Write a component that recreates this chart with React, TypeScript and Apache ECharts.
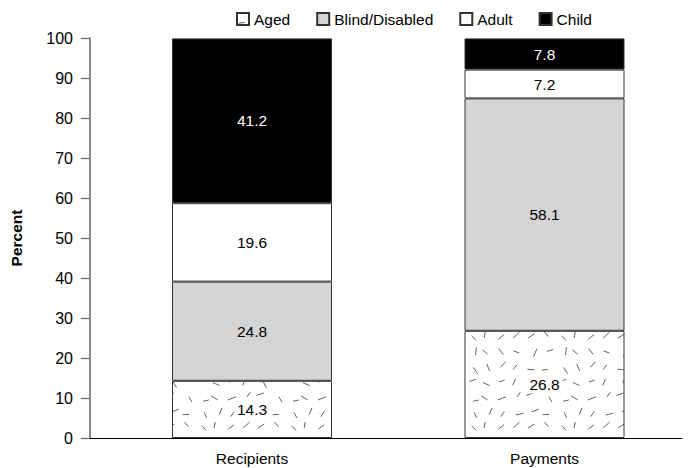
import React, { useEffect, useRef } from "react";
import * as echarts from "echarts";

const categories = ["Recipients", "Payments"];
const seriesNames = ["Aged", "Blind/Disabled", "Adult", "Child"];
const aged = [14.3, 26.8];
const blind = [24.8, 58.1];
const adult = [19.6, 7.2];
const child = [41.2, 7.8];
const yTicks = [0, 10, 20, 30, 40, 50, 60, 70, 80, 90, 100];

const FONT = "'Liberation Sans', Arial, Helvetica, sans-serif";

function makePattern(): HTMLCanvasElement {
  const size = 90;
  const c = document.createElement("canvas");
  c.width = size;
  c.height = size;
  const ctx = c.getContext("2d")!;
  ctx.fillStyle = "#ffffff";
  ctx.fillRect(0, 0, size, size);
  ctx.strokeStyle = "#3a3a3a";
  ctx.lineWidth = 0.8;
  ctx.lineCap = "round";
  let s = 12345;
  const rnd = () => {
    s = (s * 16807) % 2147483647;
    return s / 2147483647;
  };
  const cells = 6;
  const step = size / cells;
  for (let gx = 0; gx < cells; gx++) {
    for (let gy = 0; gy < cells; gy++) {
      const x = gx * step + 4 + rnd() * (step - 8);
      const y = gy * step + 4 + rnd() * (step - 8);
      const a = rnd() * Math.PI;
      const L = 5 + rnd() * 3;
      const dx = (Math.cos(a) * L) / 2;
      const dy = (Math.sin(a) * L) / 2;
      ctx.beginPath();
      ctx.moveTo(x - dx, y - dy);
      ctx.lineTo(x + dx, y + dy);
      ctx.stroke();
    }
  }
  return c;
}

export default function App() {
  const ref = useRef<HTMLDivElement>(null);
  useEffect(() => {
    if (!ref.current) return;
    const chart = echarts.init(ref.current, undefined, { renderer: "svg" });
    const pattern = makePattern();
    const fills: any[] = [
      { image: pattern, repeat: "repeat" },
      "#d4d4d4",
      "#ffffff",
      "#000000",
    ];
    const values = [aged, blind, adult, child];
    const series = seriesNames.map((name, si) => ({
      name,
      type: "bar",
      stack: "total",
      barWidth: 160,
      xAxisIndex: 1,
      yAxisIndex: 1,
      data: values[si],
      itemStyle: {
        color: fills[si],
        borderColor: "#333",
        borderWidth: 1,
      },
      label: {
        show: true,
        position: "inside",
        fontFamily: FONT,
        fontSize: 15.5,
        color: si === 3 ? "#fff" : "#000",
        backgroundColor: si === 0 ? "#fff" : "transparent",
        padding: si === 0 ? [1, 3] : 0,
        formatter: (p: any) => String(p.value),
      },
    }));
    chart.setOption({
      animation: false,
      backgroundColor: "#fff",
      textStyle: { fontFamily: FONT },
      legend: {
        top: 6,
        left: 231,
        itemGap: 26,
        itemWidth: 12,
        itemHeight: 12,
        icon: "rect",
        textStyle: { fontSize: 15.5, color: "#000", fontFamily: FONT },
        data: seriesNames,
      },
      grid: [
        { left: 87, right: 7, top: 38, bottom: 30, containLabel: false },
        { left: 252, right: 144.5, top: 38, bottom: 30, containLabel: false },
      ],
      xAxis: [
        {
          type: "value",
          gridIndex: 0,
          min: 0,
          max: 1,
          splitLine: { show: false },
          axisTick: { show: false },
          axisLabel: { show: false },
          axisLine: { show: true, lineStyle: { color: "#000", width: 1 } },
        },
        {
          type: "category",
          gridIndex: 1,
          data: categories,
          boundaryGap: false,
          axisLine: { show: false },
          axisTick: { show: false },
          splitLine: { show: false },
          axisLabel: { fontSize: 15.5, color: "#000", margin: 12, fontFamily: FONT },
        },
      ],
      yAxis: [
        {
          type: "value",
          gridIndex: 0,
          min: yTicks[0],
          max: yTicks[yTicks.length - 1],
          interval: 10,
          name: "Percent",
          nameLocation: "middle",
          nameGap: 66,
          nameTextStyle: { fontSize: 15.5, fontWeight: "bold", color: "#000", fontFamily: FONT },
          splitLine: { show: false },
          axisLine: { show: true, lineStyle: { color: "#666", width: 1.5 } },
          axisTick: { show: true, length: 9, lineStyle: { color: "#666", width: 1.2 } },
          axisLabel: { fontSize: 16, color: "#000", margin: 17, fontFamily: FONT },
        },
        {
          type: "value",
          gridIndex: 1,
          min: 0,
          max: 100,
          show: false,
        },
      ],
      series,
    });
    return () => chart.dispose();
  }, []);
  return <div ref={ref} style={{ width: 689, height: 468, position: "absolute", left: 0, top: 0 }} />;
}
